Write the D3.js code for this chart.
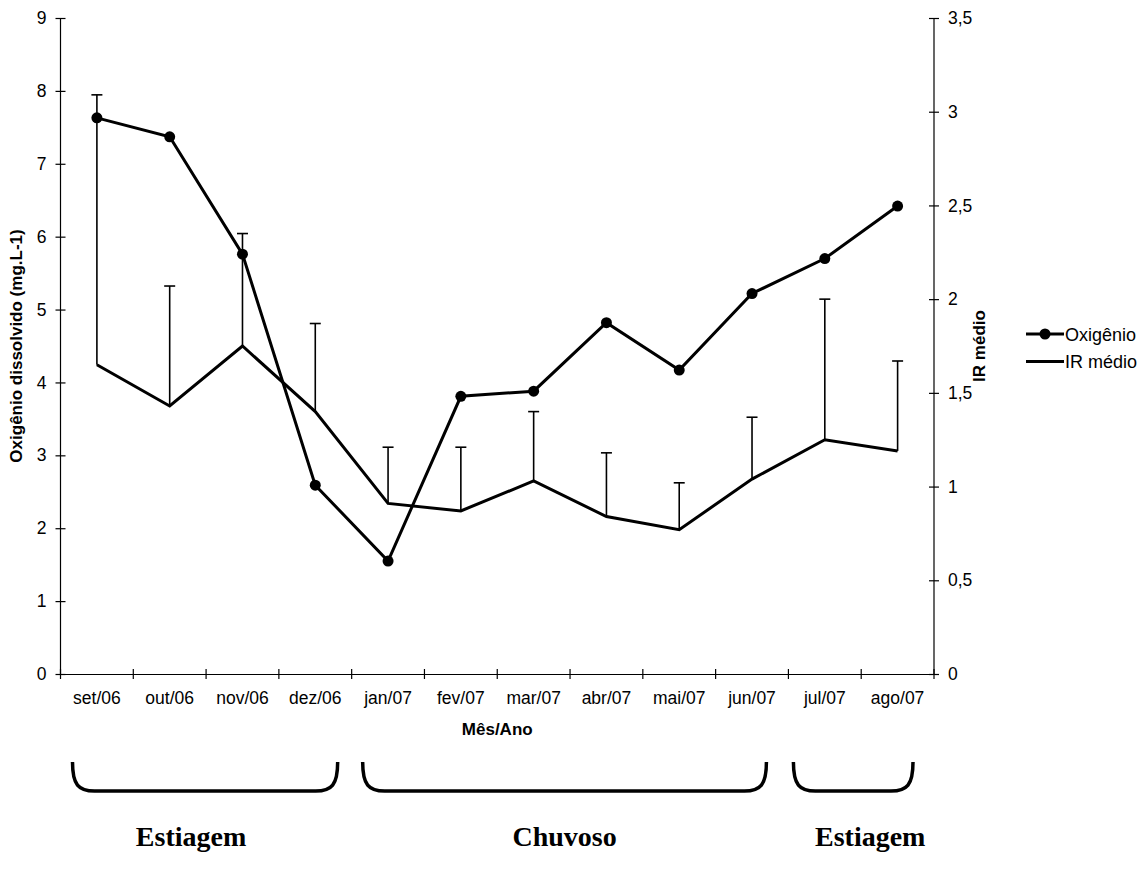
<!DOCTYPE html>
<html>
<head>
<meta charset="utf-8">
<script src="https://cdn.jsdelivr.net/npm/d3@7/dist/d3.min.js"></script>
<style>
  html, body { margin: 0; padding: 0; background: #fff; }
  svg { display: block; }
  text { font-family: "Liberation Sans", Arial, sans-serif; fill: #000; }
</style>
</head>
<body>
<svg id="chart" width="1141" height="880"></svg>
<script>
const months = ["set/06","out/06","nov/06","dez/06","jan/07","fev/07","mar/07","abr/07","mai/07","jun/07","jul/07","ago/07"];
const oxigenio = [7.63, 7.37, 5.76, 2.59, 1.55, 3.81, 3.88, 4.82, 4.17, 5.22, 5.70, 6.42];
const irMedio  = [1.65, 1.43, 1.75, 1.40, 0.91, 0.87, 1.03, 0.84, 0.77, 1.04, 1.25, 1.19];
const irErro   = [1.44, 0.64, 0.60, 0.47, 0.30, 0.34, 0.37, 0.34, 0.25, 0.33, 0.75, 0.48];
const leftTicks  = [0,1,2,3,4,5,6,7,8,9];
const rightTicks = [0,0.5,1,1.5,2,2.5,3,3.5];
const periods = [
  {label: "Estiagem", from: "set/06", to: "dez/06"},
  {label: "Chuvoso",  from: "jan/07", to: "jun/07"},
  {label: "Estiagem", from: "jul/07", to: "ago/07"}
];

const svg = d3.select("#chart");
const L = 60.5, R = 934, T = 18, B = 674;

const x = d3.scaleBand().domain(months).range([L, R]);
const yL = d3.scaleLinear().domain([0, 9]).range([B, T]);
const yR = d3.scaleLinear().domain([0, 3.5]).range([B, T]);
const cx = m => x(m) + x.bandwidth() / 2;
const fmt = d => String(d).replace(".", ",");

// Axes
const gx = svg.append("g").attr("transform", `translate(0,${B})`)
  .call(d3.axisBottom(x).tickSize(0).tickPadding(0));
gx.select(".domain").attr("stroke", "#000").attr("stroke-width", 1.2);
gx.selectAll(".tick text").remove();
// cross tick marks at category boundaries
const bounds = months.map(m => x(m)).concat([R]);
gx.selectAll("line.b").data(bounds).enter().append("line")
  .attr("x1", d => d).attr("x2", d => d).attr("y1", -5).attr("y2", 5)
  .attr("stroke", "#000").attr("stroke-width", 1.2);
gx.selectAll("text.m").data(months).enter().append("text")
  .attr("x", d => cx(d)).attr("y", 30)
  .attr("text-anchor", "middle").style("font-size", "17.5px").text(d => d);

const gl = svg.append("g").attr("transform", `translate(${L},0)`)
  .call(d3.axisLeft(yL).tickValues(leftTicks).tickSize(5).tickPadding(9).tickFormat(fmt));
gl.select(".domain").attr("stroke", "#000").attr("stroke-width", 1.2).attr("d", `M0,${B}V${T}`);
gl.selectAll(".tick line").attr("x2", -5).attr("x1", 5).attr("stroke", "#000").attr("stroke-width", 1.2);
gl.selectAll(".tick text").style("font-size", "17.5px").attr("font-family", null);

const gr = svg.append("g").attr("transform", `translate(${R},0)`)
  .call(d3.axisRight(yR).tickValues(rightTicks).tickSize(5).tickPadding(9).tickFormat(fmt));
gr.select(".domain").attr("stroke", "#000").attr("stroke-width", 1.2).attr("d", `M0,${B}V${T}`);
gr.selectAll(".tick line").attr("x1", -5).attr("x2", 5).attr("stroke", "#000").attr("stroke-width", 1.2);
gr.selectAll(".tick text").style("font-size", "17.5px").attr("font-family", null);

// Axis titles
svg.append("text").attr("transform", `translate(22,${(T + B) / 2}) rotate(-90)`)
  .attr("text-anchor", "middle").style("font-size", "17px").style("font-weight", "bold")
  .text("Oxigênio dissolvido (mg.L-1)");
svg.append("text").attr("transform", `translate(985,${(T + B) / 2}) rotate(-90)`)
  .attr("text-anchor", "middle").style("font-size", "17px").style("font-weight", "bold")
  .text("IR médio");
svg.append("text").attr("x", (L + R) / 2).attr("y", 735)
  .attr("text-anchor", "middle").style("font-size", "17px").style("font-weight", "bold")
  .text("Mês/Ano");

// IR médio line
const irData = months.map((m, i) => ({m, v: irMedio[i], e: irErro[i]}));
svg.append("path").datum(irData)
  .attr("fill", "none").attr("stroke", "#000").attr("stroke-width", 3).attr("stroke-linejoin", "miter")
  .attr("d", d3.line().x(d => cx(d.m)).y(d => yR(d.v)));

// error bars (upper only)
const eb = svg.append("g").attr("stroke", "#000").attr("stroke-width", 1.6);
eb.selectAll("line.v").data(irData).enter().append("line")
  .attr("x1", d => cx(d.m)).attr("x2", d => cx(d.m))
  .attr("y1", d => yR(d.v)).attr("y2", d => yR(d.v + d.e));
eb.selectAll("line.c").data(irData).enter().append("line")
  .attr("x1", d => cx(d.m) - 5.5).attr("x2", d => cx(d.m) + 5.5)
  .attr("y1", d => yR(d.v + d.e)).attr("y2", d => yR(d.v + d.e));

// Oxigênio line
const oxData = months.map((m, i) => ({m, v: oxigenio[i]}));
svg.append("path").datum(oxData)
  .attr("fill", "none").attr("stroke", "#000").attr("stroke-width", 3)
  .attr("d", d3.line().x(d => cx(d.m)).y(d => yL(d.v)));
svg.selectAll("circle.ox").data(oxData).enter().append("circle")
  .attr("cx", d => cx(d.m)).attr("cy", d => yL(d.v)).attr("r", 5.5).attr("fill", "#000");

// Legend
const lg = svg.append("g").attr("transform", "translate(1026,334)");
lg.append("line").attr("x1", 0).attr("x2", 38).attr("y1", 0).attr("y2", 0).attr("stroke", "#000").attr("stroke-width", 3);
lg.append("circle").attr("cx", 19).attr("cy", 0).attr("r", 5.5).attr("fill", "#000");
lg.append("text").attr("x", 39).attr("y", 6.5).style("font-size", "18px").text("Oxigênio");
lg.append("line").attr("x1", 0).attr("x2", 38).attr("y1", 27.5).attr("y2", 27.5).attr("stroke", "#000").attr("stroke-width", 3);
lg.append("text").attr("x", 39).attr("y", 34).style("font-size", "18px").text("IR médio");

// Period brackets
const pad = [{l: 12, r: 14, dx: -14}, {l: 11, r: 22, dx: 0}, {l: 5, r: 21, dx: 17}];
const bt = 762, bb = 791;
periods.forEach((p, i) => {
  const x0 = x(p.from) + pad[i].l;
  const x1 = x(p.to) + x.bandwidth() - pad[i].r;
  svg.append("path")
    .attr("d", `M${x0},${bt} C${x0},${bb - 6} ${x0 + 6},${bb} ${x0 + 22},${bb} L${x1 - 22},${bb} C${x1 - 6},${bb} ${x1},${bb - 6} ${x1},${bt}`)
    .attr("fill", "none").attr("stroke", "#000").attr("stroke-width", 3.5);
  svg.append("text").attr("x", (x0 + x1) / 2 + pad[i].dx).attr("y", 846)
    .attr("text-anchor", "middle")
    .style("font-family", "'Liberation Serif', 'Times New Roman', serif")
    .style("font-size", "28px").style("font-weight", "bold")
    .text(p.label);
});
</script>
</body>
</html>
